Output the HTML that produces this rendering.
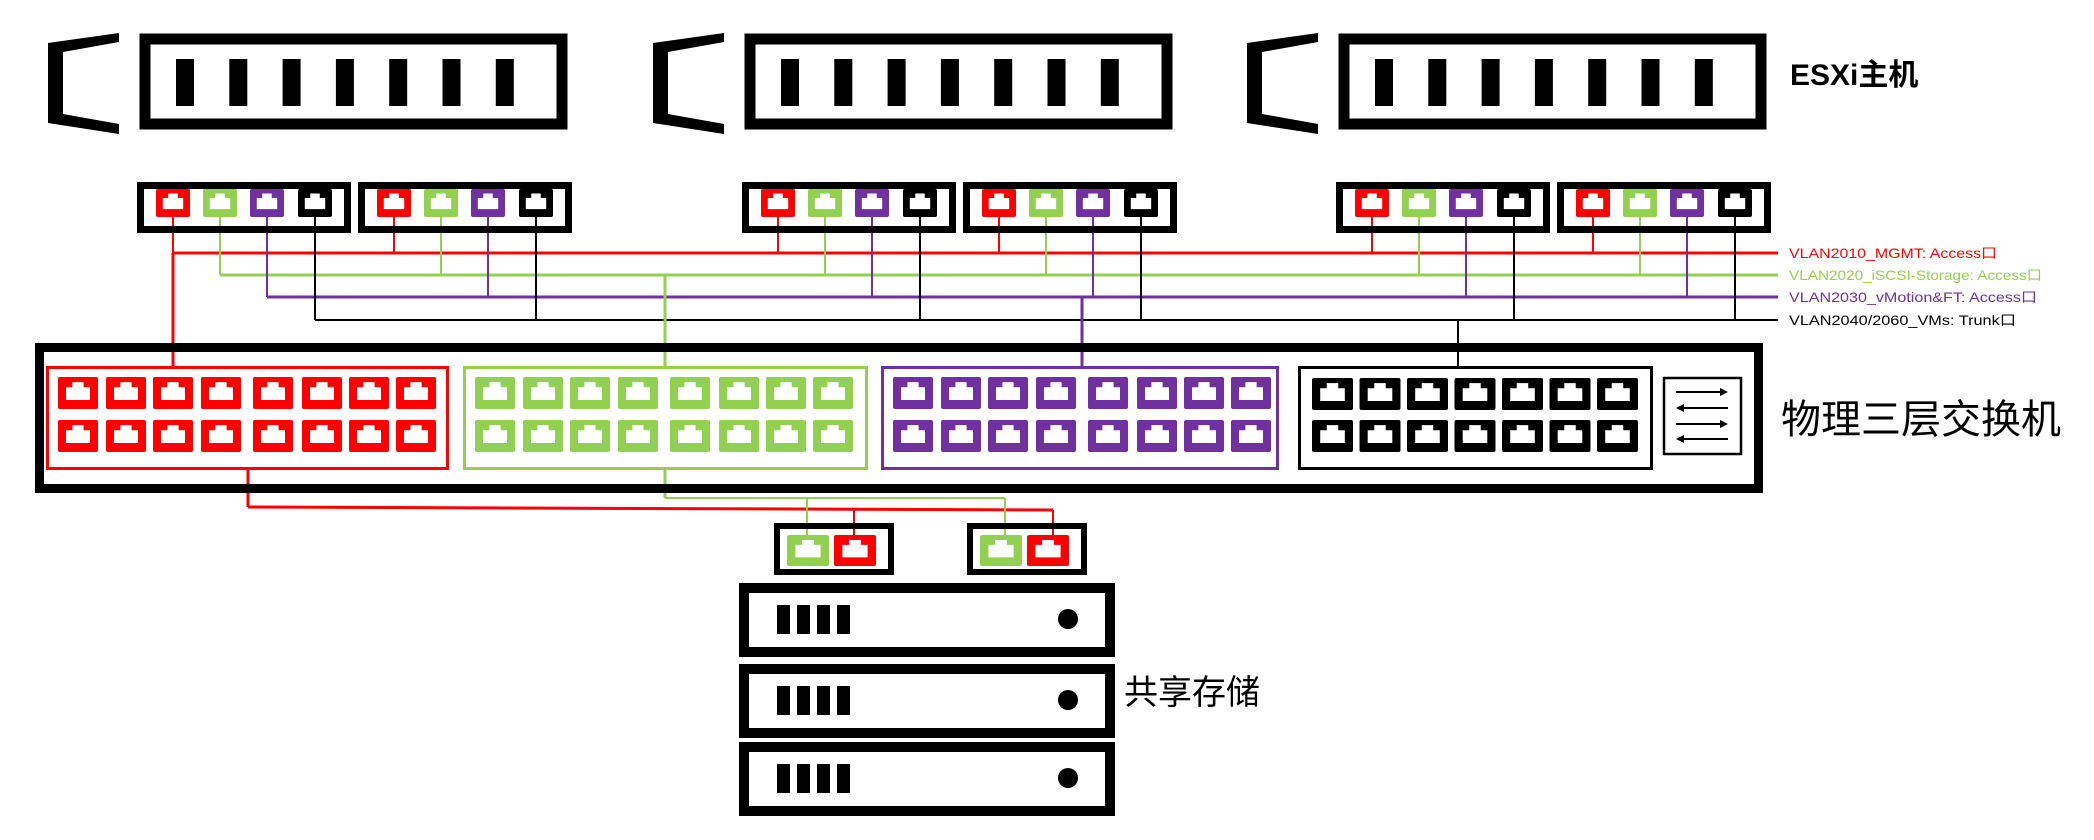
<!DOCTYPE html>
<html><head><meta charset="utf-8"><style>
html,body{margin:0;padding:0;background:#fff;}
svg{display:block;}
text{font-family:"Liberation Sans","Noto Sans CJK SC",sans-serif;}
</style></head><body>
<svg id="net" width="2094" height="840" viewBox="0 0 2094 840" xmlns="http://www.w3.org/2000/svg">
<g id="lines"></g>
<g id="hosts"></g>
<g id="switch">
  <rect x="39.5" y="347.5" width="1719" height="141" fill="none" stroke="#000" stroke-width="9"/>
  <rect x="47.5" y="367.5" width="400" height="101" fill="none" stroke="#ff0000" stroke-width="3"/>
  <rect x="464.5" y="367.5" width="402" height="101" fill="none" stroke="#92d050" stroke-width="3"/>
  <rect x="882.5" y="367.5" width="395" height="101" fill="none" stroke="#7030a0" stroke-width="3"/>
  <rect x="1299.5" y="367.5" width="352" height="101" fill="none" stroke="#000" stroke-width="3"/>
  <g>
    <rect x="1664" y="378" width="77" height="76" fill="none" stroke="#000" stroke-width="2.5"/>
    <line x1="1676" y1="392" x2="1722" y2="392" stroke="#000" stroke-width="2"/><polygon points="1728,392 1720,388 1720,396"/>
    <line x1="1682" y1="408" x2="1728" y2="408" stroke="#000" stroke-width="2"/><polygon points="1676,408 1684,404 1684,412"/>
    <line x1="1676" y1="424" x2="1722" y2="424" stroke="#000" stroke-width="2"/><polygon points="1728,424 1720,420 1720,428"/>
    <line x1="1682" y1="439" x2="1728" y2="439" stroke="#000" stroke-width="2"/><polygon points="1676,439 1684,435 1684,443"/>
  </g>
</g>
<g id="storage"></g>
<g id="labels">
  <text x="1790" y="85" font-size="30" font-weight="bold">ESXi主机</text>
  <text x="1781" y="433" font-size="40">物理三层交换机</text>
  <text x="1124" y="704" font-size="34">共享存储</text>
  <text x="1789" y="258" font-size="14" fill="#ff0000" textLength="208" lengthAdjust="spacingAndGlyphs">VLAN2010_MGMT: Access口</text>
  <text x="1789" y="280" font-size="14" fill="#92d050" textLength="253" lengthAdjust="spacingAndGlyphs">VLAN2020_iSCSI-Storage: Access口</text>
  <text x="1789" y="302" font-size="14" fill="#7030a0" textLength="248" lengthAdjust="spacingAndGlyphs">VLAN2030_vMotion&amp;FT: Access口</text>
  <text x="1789" y="325" font-size="14" fill="#000" textLength="227" lengthAdjust="spacingAndGlyphs">VLAN2040/2060_VMs: Trunk口</text>
</g>
</svg>
<script>
var NS="http://www.w3.org/2000/svg";
var colors=["#ff0000","#92d050","#7030a0","#000000"];
var hostBox=[139,744,1338];
var portOff=[36,83,130,178];
var lineY=[253,275,297,320];
var lineEnd=1778;
var hostsG=document.getElementById('hosts');
var linesG=document.getElementById('lines');
var swG=document.getElementById('switch');
var stG=document.getElementById('storage');
function mk(tag,attrs,parent){var e=document.createElementNS(NS,tag);for(var k in attrs)e.setAttribute(k,attrs[k]);parent.appendChild(e);return e;}
function port(x,y,w,h,c,parent){
  var g=mk('g',{},parent);
  
  
  mk('rect',{x:x,y:y,width:w,height:h,rx:2,fill:c},g);
  var p=[[0.2,0.32],[0.36,0.32],[0.36,0.16],[0.64,0.16],[0.64,0.32],[0.8,0.32],[0.8,0.72],[0.2,0.72]].map(function(q){return (x+q[0]*w)+','+(y+q[1]*h);}).join(' ');
  mk('polygon',{points:p,fill:'#fff'},g);
  return g;
}
function line(x1,y1,x2,y2,c,w,name){
  var l=mk('line',{x1:x1,y1:y1,x2:x2,y2:y2,stroke:c,'stroke-width':w},linesG);
  
  
}
// VLAN horizontal lines
for(var i=0;i<4;i++){
  line(137+portOff[i],lineY[i],lineEnd,lineY[i],colors[i],i==3?2:3,'vlan-line');
}
// hosts
hostBox.forEach(function(bx,h){
  var g=mk('g',{},hostsG);
  
  
  var b=bx-91;
  var br=mk('polygon',{points:[(b+71)+',33',b+',43',b+',123',(b+71)+',134',(b+71)+',124',(b+15)+',114',(b+15)+',52',(b+71)+',42'].join(' '),fill:'#000'},g);
  
  
  var r=mk('rect',{x:bx+6,y:39,width:417,height:85,fill:'none',stroke:'#000','stroke-width':11},g);
  
  
  for(var k=0;k<7;k++){
    var bar=mk('rect',{x:bx+37+k*53.3,y:59,width:18,height:47,fill:'#000'},g);
    
    
  }
  for(var n=0;n<2;n++){
    var nl=bx-2+n*221;
    var nic=mk('rect',{x:nl+3.5,y:185.5,width:207,height:44,fill:'none',stroke:'#000','stroke-width':7},g);
    
    
    for(var p=0;p<4;p++){
      var cx=nl+portOff[p];
      var isFirst=(h==0&&n==0);
      line(cx,215,cx,lineY[p],colors[p],p==3?2:2,'port-drop');
      port(cx-17,189,34,28,colors[p],g);
    }
  }
});
// uplinks to switch
line(173,253,173,368,colors[0],3,'red-uplink');
line(665,275,665,368,colors[1],3,'green-uplink');
line(1082,297,1082,368,colors[2],3,'purple-uplink');
line(1458,320,1458,368,colors[3],2,'black-uplink');
// switch ports
var secLeft=[46,463,881];
var colOff=[12,60,107,155,207,256,303,350];
secLeft.forEach(function(sl,s){
  for(var r=0;r<2;r++)for(var c=0;c<8;c++){port(sl+colOff[c],377+r*43,40,32,colors[s],swG);}
});
for(var r2=0;r2<2;r2++)for(var c2=0;c2<7;c2++){port(1312+c2*47.5,378+r2*42,41,32,'#000',swG);}
// storage links
line(248,469,248,507,colors[0],3,'storage-red-link');
line(248,507,1053,510,colors[0],3,'storage-red-link');
line(854,509,854,537,colors[0],2,'storage-red-drop');
line(1053,510,1053,537,colors[0],2,'storage-red-drop');
line(665,469,665,498,colors[1],3,'storage-green-link');
line(665,498,1005,498,colors[1],2,'storage-green-link');
line(807,498,807,537,colors[1],2,'storage-green-drop');
line(1005,498,1005,537,colors[1],2,'storage-green-drop');
// storage NICs
[774,967].forEach(function(nx){
  var nb=mk('rect',{x:nx+3,y:526,width:114,height:46,fill:'none',stroke:'#000','stroke-width':6},stG);
  
  
  port(nx+13,535,42,31,colors[1],stG);
  port(nx+60,535,42,31,colors[0],stG);
});
// storage units
[583,664,742].forEach(function(uy){
  var g=mk('g',{},stG);
  
  
  mk('rect',{x:744,y:uy+5,width:366,height:64,fill:'none',stroke:'#000','stroke-width':10},g);
  for(var k=0;k<4;k++){mk('rect',{x:777+k*20,y:uy+22,width:13,height:29,fill:'#000'},g);}
  mk('circle',{cx:1068,cy:uy+36,r:10,fill:'#000'},g);
});
</script>
</body></html>
